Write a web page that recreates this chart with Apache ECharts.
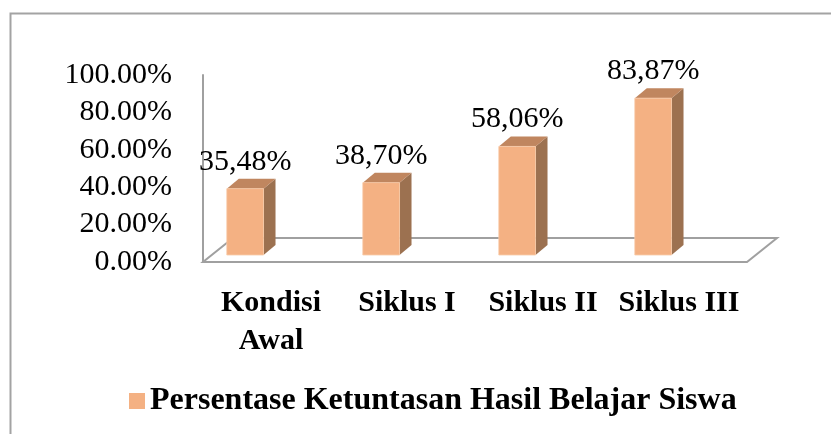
<!DOCTYPE html>
<html>
<head>
<meta charset="utf-8">
<script src="https://cdn.jsdelivr.net/npm/echarts@6/dist/echarts.min.js"></script>
<style>
html,body{margin:0;padding:0;background:#fff;}
#c{width:831px;height:434px;}
</style>
</head>
<body>
<div id="c"></div>
<script>
var categories = ['Kondisi\nAwal', 'Siklus I', 'Siklus II', 'Siklus III'];
var values = [35.48, 38.70, 58.06, 83.87];
var seriesName = 'Persentase Ketuntasan Hasil Belajar Siswa';
var yTicks = [0, 20, 40, 60, 80, 100];

var FRONT = '#F4B183', TOP = '#C0865F', SIDE = '#9C7150';
var FONT = '"Liberation Serif", "Times New Roman", serif';

var chart = echarts.init(document.getElementById('c'), null, {renderer: 'canvas'});

function barItem(params, api) {
  var idx = api.value(0);
  var v = api.value(1);
  var top = api.coord([idx, v]);
  var base = api.coord([idx, 0]);
  var band = api.size([1, 0])[0];
  var w = band * 0.27;
  var cx = top[0] - band * 0.19;
  var yTop = top[1] - 7, yBot = base[1] - 7;
  var x1 = cx - w / 2, x2 = cx + w / 2;
  var dx = 12, dy = -10;
  return {
    type: 'group',
    children: [
      {type: 'polygon', shape: {points: [[x2, yTop], [x2 + dx, yTop + dy], [x2 + dx, yBot + dy], [x2, yBot]]}, style: {fill: SIDE}},
      {type: 'polygon', shape: {points: [[x1, yTop], [x1 + dx, yTop + dy], [x2 + dx, yTop + dy], [x2, yTop]]}, style: {fill: TOP}},
      {type: 'rect', shape: {x: x1, y: yTop, width: w, height: yBot - yTop}, style: {fill: FRONT, stroke: '#F9CBA8', lineWidth: 0.8}},
      {type: 'text', style: {text: v.toFixed(2).replace('.', ',') + '%', x: cx, y: yTop - 27, align: 'center', verticalAlign: 'middle', fill: '#000', fontSize: 30, fontFamily: FONT}}
    ]
  };
}

function floorItem(params, api) {
  var cs = params.coordSys;
  var fx1 = cs.x, fx2 = cs.x + cs.width, fy = cs.y + cs.height;
  var dx = 30, dy = -24;
  return {
    type: 'polygon',
    shape: {points: [[fx1, fy], [fx2, fy], [fx2 + dx, fy + dy], [fx1 + dx, fy + dy]]},
    style: {fill: 'none', stroke: '#A0A0A0', lineWidth: 2}
  };
}

var option = {
  backgroundColor: '#fff',
  animation: false,
  graphic: [{
    type: 'rect', shape: {x: 10.5, y: 13.5, width: 900, height: 500},
    style: {fill: 'none', stroke: '#A3A3A3', lineWidth: 2}, silent: true, z: -10
  }],
  grid: {left: 203, right: 84, top: 75, bottom: 172},
  legend: {
    data: [seriesName],
    left: 129, top: 385, padding: 0,
    icon: 'rect', itemWidth: 16, itemHeight: 16,
    textStyle: {fontFamily: FONT, fontWeight: 'bold', fontSize: 32, color: '#000'}
  },
  xAxis: {
    type: 'category',
    data: categories,
    axisLine: {show: false},
    axisTick: {show: false},
    splitLine: {show: false},
    axisLabel: {interval: 0, margin: 22, lineHeight: 38, fontFamily: FONT, fontWeight: 'bold', fontSize: 30, color: '#000'}
  },
  yAxis: {
    type: 'value', min: 0, max: 100, interval: 20,
    axisLine: {show: true, lineStyle: {color: '#A0A0A0', width: 2}},
    axisTick: {show: false},
    splitLine: {show: false},
    axisLabel: {margin: 31, fontFamily: FONT, fontSize: 30, color: '#000',
      formatter: function (v) { return v.toFixed(2) + '%'; }}
  },
  series: [
    {type: 'custom', name: 'floor', renderItem: floorItem, data: [[0, 0]], silent: true, z: 1},
    {type: 'custom', name: seriesName, renderItem: barItem, itemStyle: {color: FRONT},
     encode: {x: 0, y: 1},
     data: values.map(function (v, i) { return [i, v]; }), z: 2}
  ]
};
chart.setOption(option);
</script>
</body>
</html>
